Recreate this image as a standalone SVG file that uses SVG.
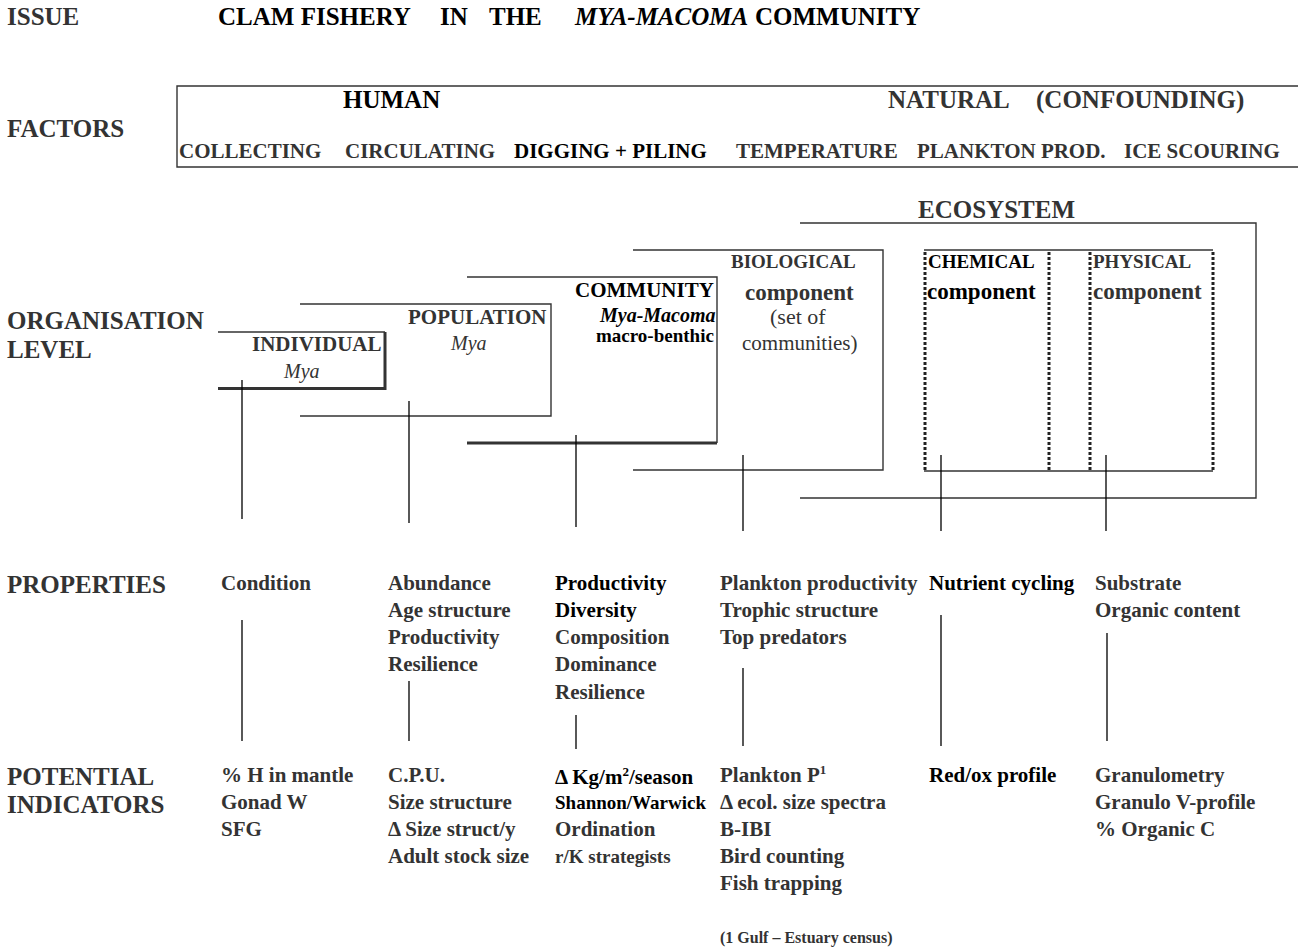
<svg xmlns="http://www.w3.org/2000/svg" width="1298" height="952" viewBox="0 0 1298 952">
<style>
text{font-family:"Liberation Serif","Times New Roman",serif;font-weight:bold;fill:#333}
.h{font-size:25px}
.t{font-size:21px}
.k{fill:#000}
.i{font-style:italic}
.n{font-weight:normal}
.s19{font-size:19px}
.s16{font-size:16px}
.ln{stroke:#333;stroke-width:1.4;fill:none}
.th{stroke:#333;stroke-width:3;fill:none}
.conn{stroke:#000;stroke-width:1.3}
.dot{stroke:#222;stroke-width:3;stroke-dasharray:3 2;fill:none}
</style>
<rect width="1298" height="952" fill="#fff"/>

<g id="labels">
<text class="h" x="7" y="25">ISSUE</text>
<text class="h k" x="218" y="25">CLAM FISHERY</text>
<text class="h k" x="440" y="25">IN</text>
<text class="h k" x="489" y="25">THE</text>
<text class="h k i" x="575" y="25">MYA-MACOMA</text>
<text class="h k" x="755" y="25">COMMUNITY</text>
<text class="h" x="7" y="137">FACTORS</text>
<text class="h" x="7" y="329">ORGANISATION</text>
<text class="h" x="7" y="358">LEVEL</text>
<text class="h" x="7" y="593">PROPERTIES</text>
<text class="h" x="7" y="785">POTENTIAL</text>
<text class="h" x="7" y="813">INDICATORS</text>
</g>

<g id="factors">
<path class="ln" d="M1298 86 H177 V167 H1298"/>
<text class="h k" x="343" y="108">HUMAN</text>
<text class="h" x="888" y="108">NATURAL</text>
<text class="h" x="1036" y="108">(CONFOUNDING)</text>
<text class="t" x="179" y="158">COLLECTING</text>
<text class="t" x="345" y="158">CIRCULATING</text>
<text class="t k" x="514" y="158">DIGGING + PILING</text>
<text class="t" x="736" y="158">TEMPERATURE</text>
<text class="t" x="917" y="158">PLANKTON PROD.</text>
<text class="t" x="1124" y="158">ICE SCOURING</text>
</g>

<g id="ecosystem">
<path class="ln" d="M800 223 H1256 V498 H800"/>
<text class="h" x="918" y="218">ECOSYSTEM</text>
</g>

<g id="individual">
<path class="ln" d="M218 332 H385"/>
<path class="th" d="M385 332 V388.5 H218"/>
<text class="t" x="252" y="351">INDIVIDUAL</text>
<text class="t n i" style="font-size:20px" x="284" y="378">Mya</text>
</g>

<g id="population">
<path class="ln" d="M300 304 H551 V416 H300"/>
<text class="t" x="408" y="324">POPULATION</text>
<text class="t n i" style="font-size:20px" x="451" y="350">Mya</text>
</g>

<g id="community">
<path class="ln" d="M467 277 H717 V443"/>
<path class="th" d="M717 443 H467"/>
<text class="t k" x="575" y="297">COMMUNITY</text>
<text class="k i" style="font-size:20px" x="600" y="322">Mya-Macoma</text>
<text class="k s19" x="596" y="342">macro-benthic</text>
</g>

<g id="biological">
<path class="ln" d="M633 250 H883 V470 H633"/>
<text class="s19" x="731" y="268">BIOLOGICAL</text>
<text style="font-size:23px" x="745" y="300">component</text>
<text class="n" style="font-size:22px" x="770" y="324">(set of</text>
<text class="n" style="font-size:21px" x="742" y="350">communities)</text>
</g>

<g id="chemical">
<path class="ln" d="M924 250 H1213"/>
<path class="ln" d="M924 471 H1213"/>
<path class="dot" d="M925 252 V470 M1049 252 V470"/>
<text class="s19 k" x="928" y="268">CHEMICAL</text>
<text class="k" style="font-size:23px" x="927" y="299">component</text>
</g>

<g id="physical">
<path class="dot" d="M1090 252 V470 M1213 252 V470"/>
<text class="s19" x="1093" y="268">PHYSICAL</text>
<text style="font-size:23px" x="1093" y="299">component</text>
</g>

<g id="connectors">
<path class="conn" d="M242 380 V519 M409 401 V523 M576 435 V527 M743 455 V531 M941 455 V531 M1106 455 V531"/>
<path class="conn" d="M242 620 V741 M409 681 V741 M576 715 V749 M743 668 V746 M941 615 V746 M1107 633 V741"/>
</g>

<g id="properties">
<text class="t" x="221" y="590">Condition</text>
<text class="t" x="388" y="590">Abundance</text>
<text class="t" x="388" y="617">Age structure</text>
<text class="t" x="388" y="644">Productivity</text>
<text class="t" x="388" y="671">Resilience</text>
<text class="t k" x="555" y="590">Productivity</text>
<text class="t k" x="555" y="617">Diversity</text>
<text class="t" x="555" y="644">Composition</text>
<text class="t" x="555" y="671">Dominance</text>
<text class="t" x="555" y="699">Resilience</text>
<text class="t" x="720" y="590">Plankton productivity</text>
<text class="t" x="720" y="617">Trophic structure</text>
<text class="t" x="720" y="644">Top predators</text>
<text class="t k" x="929" y="590">Nutrient cycling</text>
<text class="t" x="1095" y="590">Substrate</text>
<text class="t" x="1095" y="617">Organic content</text>
</g>

<g id="indicators">
<text class="t" x="221" y="782">% H in mantle</text>
<text class="t" x="221" y="809">Gonad W</text>
<text class="t" x="221" y="836">SFG</text>
<text class="t" x="388" y="782">C.P.U.</text>
<text class="t" x="388" y="809">Size structure</text>
<text class="t" x="388" y="836">Δ Size struct/y</text>
<text class="t" x="388" y="863">Adult stock size</text>
<text class="t k" x="555" y="784">Δ Kg/m<tspan dy="-8" style="font-size:13px">2</tspan><tspan dy="8">/season</tspan></text>
<text class="s19 k" x="555" y="809">Shannon/Warwick</text>
<text class="t" x="555" y="836">Ordination</text>
<text class="s19" x="555" y="863">r/K strategists</text>
<text class="t" x="720" y="782">Plankton P<tspan dy="-8" style="font-size:13px">1</tspan></text>
<text class="t" x="720" y="809">Δ ecol. size spectra</text>
<text class="t" x="720" y="836">B-IBI</text>
<text class="t" x="720" y="863">Bird counting</text>
<text class="t" x="720" y="890">Fish trapping</text>
<text class="s16" x="720" y="943">(1 Gulf – Estuary census)</text>
<text class="t k" x="929" y="782">Red/ox profile</text>
<text class="t" x="1095" y="782">Granulometry</text>
<text class="t" x="1095" y="809">Granulo V-profile</text>
<text class="t" x="1095" y="836">% Organic C</text>
</g>
</svg>
